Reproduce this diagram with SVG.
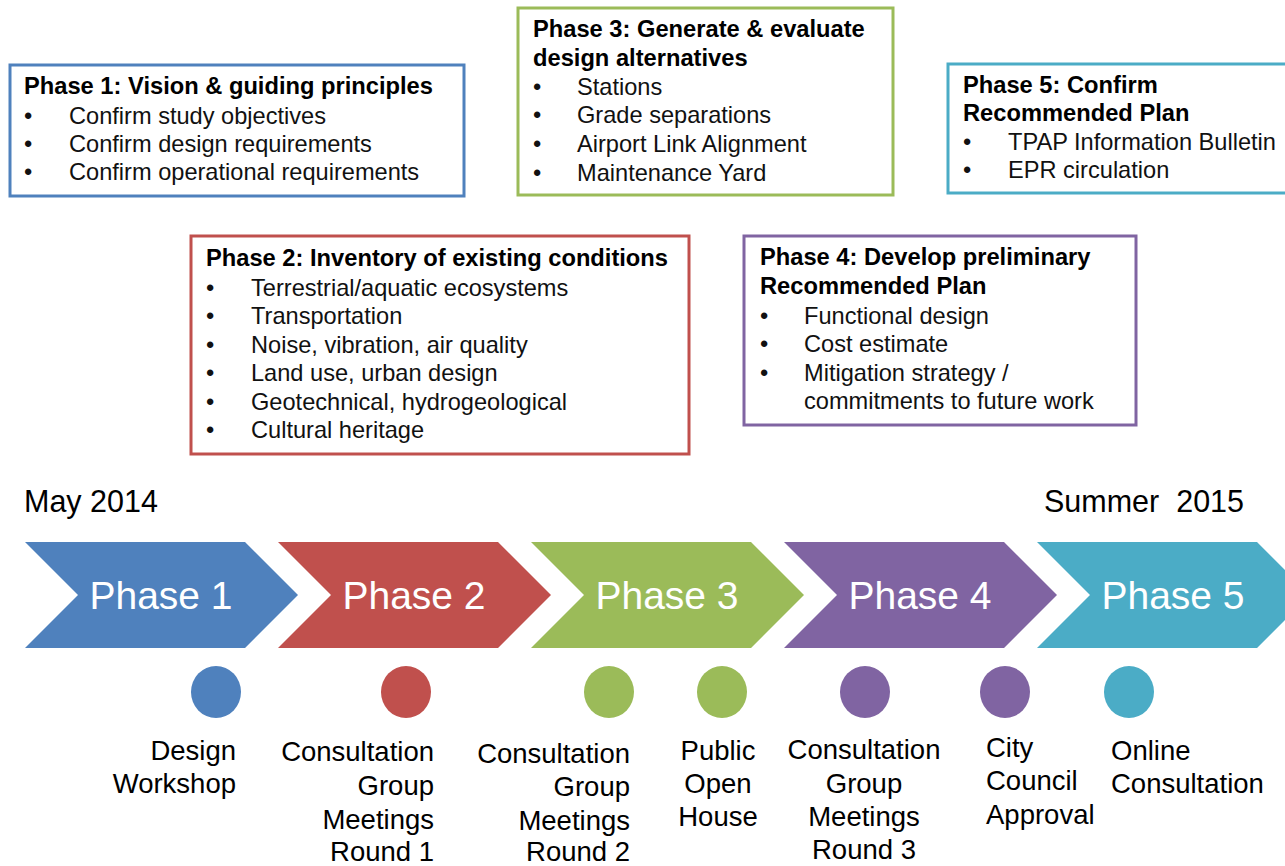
<svg xmlns="http://www.w3.org/2000/svg" width="1285" height="866" viewBox="0 0 1285 866">
<style>
text{font-family:"Liberation Sans",Arial,sans-serif;fill:#000;white-space:pre}
.box{fill:#fff;stroke-width:3}
.t{font-size:23.7px;font-weight:bold}
.b{font-size:23.6px;fill:#111}
.date{font-size:30.5px}
.chev{font-size:39px;fill:#fff;text-anchor:middle}
.lbl{font-size:27.5px}
.r{text-anchor:end}
.m{text-anchor:middle}
</style>

<g id="phase1-box">
<rect class="box" x="10" y="65" width="454" height="131" stroke="#4f81bd"/>
<text class="t" x="24" y="94">Phase 1: Vision &amp; guiding principles</text>
<text class="b" x="24" y="124">•</text><text class="b" x="69" y="124">Confirm study objectives</text>
<text class="b" x="24" y="152">•</text><text class="b" x="69" y="152">Confirm design requirements</text>
<text class="b" x="24" y="180">•</text><text class="b" x="69" y="180">Confirm operational requirements</text>
</g>

<g id="phase3-box">
<rect class="box" x="518" y="8" width="375" height="187" stroke="#9bbb59"/>
<text class="t" x="533" y="37">Phase 3: Generate &amp; evaluate</text>
<text class="t" x="533" y="66">design alternatives</text>
<text class="b" x="533" y="95">•</text><text class="b" x="577" y="95">Stations</text>
<text class="b" x="533" y="123">•</text><text class="b" x="577" y="123">Grade separations</text>
<text class="b" x="533" y="152">•</text><text class="b" x="577" y="152">Airport Link Alignment</text>
<text class="b" x="533" y="181">•</text><text class="b" x="577" y="181">Maintenance Yard</text>
</g>

<g id="phase5-box">
<rect class="box" x="948" y="64" width="345" height="129" stroke="#4bacc6"/>
<text class="t" x="963" y="93">Phase 5: Confirm</text>
<text class="t" x="963" y="121">Recommended Plan</text>
<text class="b" x="963" y="150">•</text><text class="b" x="1008" y="150">TPAP Information Bulletin</text>
<text class="b" x="963" y="178">•</text><text class="b" x="1008" y="178">EPR circulation</text>
</g>

<g id="phase2-box">
<rect class="box" x="191" y="236" width="498" height="218" stroke="#c0504d"/>
<text class="t" x="206" y="266">Phase 2: Inventory of existing conditions</text>
<text class="b" x="206" y="296">•</text><text class="b" x="251" y="296">Terrestrial/aquatic ecosystems</text>
<text class="b" x="206" y="324">•</text><text class="b" x="251" y="324">Transportation</text>
<text class="b" x="206" y="353">•</text><text class="b" x="251" y="353">Noise, vibration, air quality</text>
<text class="b" x="206" y="381">•</text><text class="b" x="251" y="381">Land use, urban design</text>
<text class="b" x="206" y="410">•</text><text class="b" x="251" y="410">Geotechnical, hydrogeological</text>
<text class="b" x="206" y="438">•</text><text class="b" x="251" y="438">Cultural heritage</text>
</g>

<g id="phase4-box">
<rect class="box" x="744" y="236" width="392" height="189" stroke="#8064a2"/>
<text class="t" x="760" y="265">Phase 4: Develop preliminary</text>
<text class="t" x="760" y="294">Recommended Plan</text>
<text class="b" x="760" y="324">•</text><text class="b" x="804" y="324">Functional design</text>
<text class="b" x="760" y="352">•</text><text class="b" x="804" y="352">Cost estimate</text>
<text class="b" x="760" y="381">•</text><text class="b" x="804" y="381">Mitigation strategy /</text>
<text class="b" x="804" y="409">commitments to future work</text>
</g>

<g id="dates">
<text class="date" x="24" y="512">May 2014</text>
<text class="date" x="1044" y="512">Summer  2015</text>
</g>

<g id="chevron1">
<polygon points="25,542 245,542 298,595 245,648 25,648 78,595" fill="#4f81bd"/>
<text class="chev" x="161" y="609">Phase 1</text>
</g>
<g id="chevron2">
<polygon points="278,542 498,542 551,595 498,648 278,648 331,595" fill="#c0504d"/>
<text class="chev" x="414" y="609">Phase 2</text>
</g>
<g id="chevron3">
<polygon points="531,542 751,542 804,595 751,648 531,648 584,595" fill="#9bbb59"/>
<text class="chev" x="667" y="609">Phase 3</text>
</g>
<g id="chevron4">
<polygon points="784,542 1004,542 1057,595 1004,648 784,648 837,595" fill="#8064a2"/>
<text class="chev" x="920" y="609">Phase 4</text>
</g>
<g id="chevron5">
<polygon points="1037,542 1257,542 1310,595 1257,648 1037,648 1090,595" fill="#4bacc6"/>
<text class="chev" x="1173" y="609">Phase 5</text>
</g>

<g id="m1">
<ellipse cx="216" cy="692" rx="25" ry="26" fill="#4f81bd"/>
<text class="lbl r" x="236" y="760">Design</text>
<text class="lbl r" x="236" y="793">Workshop</text>
</g>
<g id="m2">
<ellipse cx="406" cy="692" rx="25" ry="26" fill="#c0504d"/>
<text class="lbl r" x="434" y="761">Consultation</text>
<text class="lbl r" x="434" y="795">Group</text>
<text class="lbl r" x="434" y="829">Meetings</text>
<text class="lbl r" x="434" y="861">Round 1</text>
</g>
<g id="m3">
<ellipse cx="609" cy="692" rx="25" ry="26" fill="#9bbb59"/>
<text class="lbl r" x="630" y="763">Consultation</text>
<text class="lbl r" x="630" y="796">Group</text>
<text class="lbl r" x="630" y="830">Meetings</text>
<text class="lbl r" x="630" y="861">Round 2</text>
</g>
<g id="m4">
<ellipse cx="722" cy="692" rx="25" ry="26" fill="#9bbb59"/>
<text class="lbl m" x="718" y="760">Public</text>
<text class="lbl m" x="718" y="793">Open</text>
<text class="lbl m" x="718" y="826">House</text>
</g>
<g id="m5">
<ellipse cx="865" cy="692" rx="25" ry="26" fill="#8064a2"/>
<text class="lbl m" x="864" y="759">Consultation</text>
<text class="lbl m" x="864" y="793">Group</text>
<text class="lbl m" x="864" y="826">Meetings</text>
<text class="lbl m" x="864" y="859">Round 3</text>
</g>
<g id="m6">
<ellipse cx="1005" cy="692" rx="25" ry="26" fill="#8064a2"/>
<text class="lbl" x="986" y="757">City</text>
<text class="lbl" x="986" y="790">Council</text>
<text class="lbl" x="986" y="824">Approval</text>
</g>
<g id="m7">
<ellipse cx="1129" cy="692" rx="25" ry="26" fill="#4bacc6"/>
<text class="lbl" x="1111" y="760">Online</text>
<text class="lbl" x="1111" y="793">Consultation</text>
</g>
</svg>
